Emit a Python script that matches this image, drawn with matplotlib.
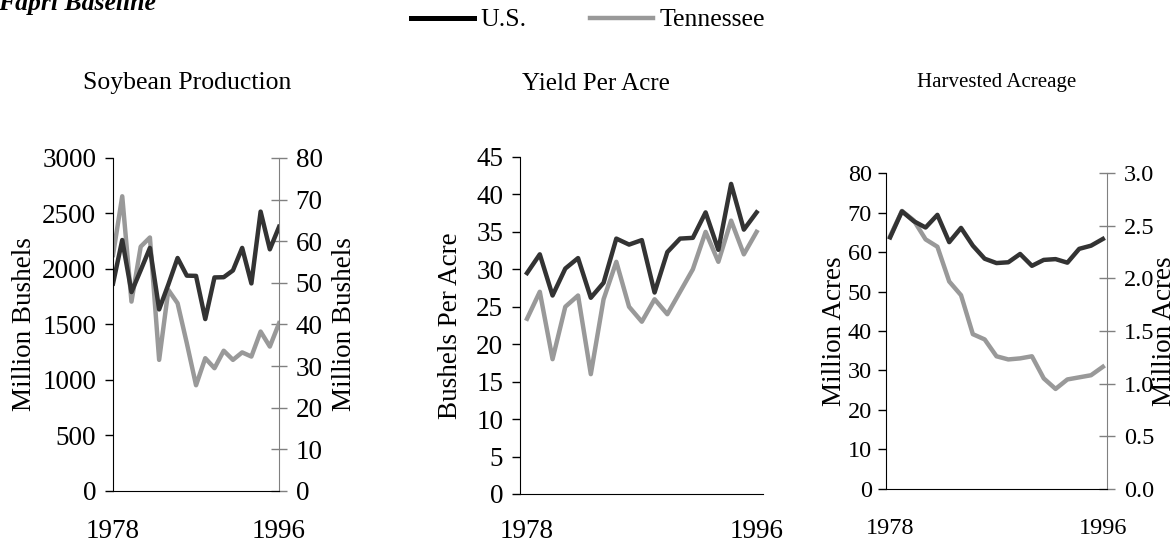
# Soybean production, yield and harvested acreage: U.S. vs Tennessee, 1978-1996
import numpy as np
import matplotlib.pyplot as plt
from matplotlib.lines import Line2D
from matplotlib.ticker import FormatStrFormatter

plt.rcParams['font.family'] = ['Liberation Serif', 'DejaVu Serif']

years = np.arange(1978, 1997)

# production, million bushels
us_prod = [1869, 2261, 1792, 1989, 2190, 1636, 1861, 2099, 1940, 1938,
           1549, 1924, 1926, 1987, 2190, 1870, 2517, 2177, 2380]
tn_prod = [56.7, 70.8, 45.5, 58.7, 60.9, 31.5, 48.3, 45.1, 35.5, 25.4,
           31.9, 29.5, 33.7, 31.5, 33.3, 32.3, 38.3, 34.7, 40.3]

# yield, bushels per acre
us_yield = [29.5, 32.0, 26.5, 30.1, 31.5, 26.2, 28.2, 34.1, 33.3, 33.9,
            26.9, 32.3, 34.1, 34.2, 37.6, 32.6, 41.4, 35.3, 37.6]
tn_yield = [23.4, 27.0, 18.0, 25.0, 26.5, 16.0, 26.0, 31.0, 25.0, 23.0,
            26.0, 24.0, 27.0, 30.0, 35.0, 31.0, 36.5, 32.0, 35.0]

# harvested acreage, million acres
us_acres = [63.7, 70.3, 67.8, 66.2, 69.4, 62.5, 66.1, 61.6, 58.3, 57.2,
            57.4, 59.5, 56.5, 58.0, 58.2, 57.3, 60.8, 61.6, 63.3]
tn_acres = [2.40, 2.64, 2.55, 2.37, 2.30, 1.97, 1.84, 1.47, 1.42, 1.26,
            1.23, 1.24, 1.26, 1.05, 0.95, 1.04, 1.06, 1.08, 1.16]

US_COL = '#333333'
TN_COL = '#999999'
LW = 3.2
FS = 19.5

fig = plt.figure(figsize=(11.76, 5.42), dpi=100)


def style_left(ax, pad):
    ax.spines['top'].set_visible(False)
    ax.spines['right'].set_visible(False)
    ax.tick_params(axis='y', direction='out', length=6, width=1, labelsize=FS, pad=pad)
    ax.tick_params(axis='x', length=0, labelsize=FS, pad=20)


def style_right(ax2, pad):
    for s in ['top', 'left', 'bottom']:
        ax2.spines[s].set_visible(False)
    ax2.spines['right'].set_color('#808080')
    ax2.tick_params(axis='y', direction='inout', length=12, width=1,
                    color='#808080', labelsize=FS, pad=pad)


# Panel 1: production
ax1 = fig.add_axes([0.0961, 0.0941, 0.1412, 0.6144])
ax1.plot(years, us_prod, color=US_COL, lw=LW)
ax1.set_xlim(1978, 1996)
ax1.set_ylim(0, 3000)
ax1.set_yticks(np.arange(0, 3001, 500))
ax1.set_xticks([1978, 1996])
style_left(ax1, 6)
ax1.set_ylabel('Million Bushels', fontsize=FS)
ax1.yaxis.set_label_coords(-0.46, 0.5)
ax1b = ax1.twinx()
ax1b.plot(years, tn_prod, color=TN_COL, lw=LW)
ax1b.set_ylim(0, 80)
ax1b.set_yticks(np.arange(0, 81, 10))
style_right(ax1b, 6)
ax1b.set_ylabel('Million Bushels', fontsize=FS)
ax1b.yaxis.set_label_coords(1.32, 0.5)
ax1.set_zorder(ax1b.get_zorder() + 1)
ax1.patch.set_visible(False)

# Panel 2: yield
ax2 = fig.add_axes([0.4422, 0.0886, 0.2066, 0.6218])
ax2.plot(years, tn_yield, color=TN_COL, lw=LW)
ax2.plot(years, us_yield, color=US_COL, lw=LW)
ax2.set_xlim(1977.45, 1996.5)
ax2.set_ylim(0, 45)
ax2.set_yticks(np.arange(0, 46, 5))
ax2.set_xticks([1978, 1996])
style_left(ax2, 6)
ax2.tick_params(axis='x', pad=18)
ax2.set_ylabel('Bushels Per Acre', fontsize=FS)
ax2.yaxis.set_label_coords(-0.235, 0.5)

# Panel 3: harvested acreage
FS3 = 17.5
ax3 = fig.add_axes([0.7534, 0.0978, 0.1879, 0.583])
ax3.plot(years, us_acres, color=US_COL, lw=LW)
ax3.set_xlim(1977.65, 1996.35)
ax3.set_ylim(0, 80)
ax3.set_yticks(np.arange(0, 81, 10))
ax3.set_xticks([1978, 1996])
style_left(ax3, 4)
ax3.tick_params(labelsize=FS3)
ax3.tick_params(axis='x', pad=21)
ax3.set_ylabel('Million Acres', fontsize=FS)
ax3.yaxis.set_label_coords(-0.176, 0.5)
ax3b = ax3.twinx()
ax3b.plot(years, tn_acres, color=TN_COL, lw=LW)
ax3b.set_ylim(0, 3.0)
ax3b.set_yticks(np.arange(0, 3.01, 0.5))
ax3b.yaxis.set_major_formatter(FormatStrFormatter('%.1f'))
style_right(ax3b, 6)
ax3b.tick_params(labelsize=FS3)
ax3b.set_ylabel('Million Acres', fontsize=FS)
ax3b.yaxis.set_label_coords(1.205, 0.5)
ax3.set_zorder(ax3b.get_zorder() + 1)
ax3.patch.set_visible(False)

# titles
W, H = 1176.0, 542.0
fig.text(187 / W, 1 - 83 / H, 'Soybean Production', fontsize=18.5, ha='center', va='center')
fig.text(596 / W, 1 - 84 / H, 'Yield Per Acre', fontsize=18, ha='center', va='center')
fig.text(997 / W, 1 - 83 / H, 'Harvested Acreage', fontsize=15, ha='center', va='center')
fig.text(-0.002, 1 - 10 / H, 'Fapri Baseline', fontsize=18.5, fontweight='bold',
         fontstyle='italic', ha='left', va='baseline')

# legend
handles = [Line2D([], [], color='black', lw=3.6),
           Line2D([], [], color=TN_COL, lw=3.2)]
fig.legend(handles, ['U.S.', 'Tennessee'], loc='center', bbox_to_anchor=(0.5, 1 - 20 / H),
           ncol=2, frameon=False, fontsize=18.5, handlelength=2.45, handletextpad=0.25,
           columnspacing=2.5, borderpad=0)

fig.savefig('out.png', dpi=100)
